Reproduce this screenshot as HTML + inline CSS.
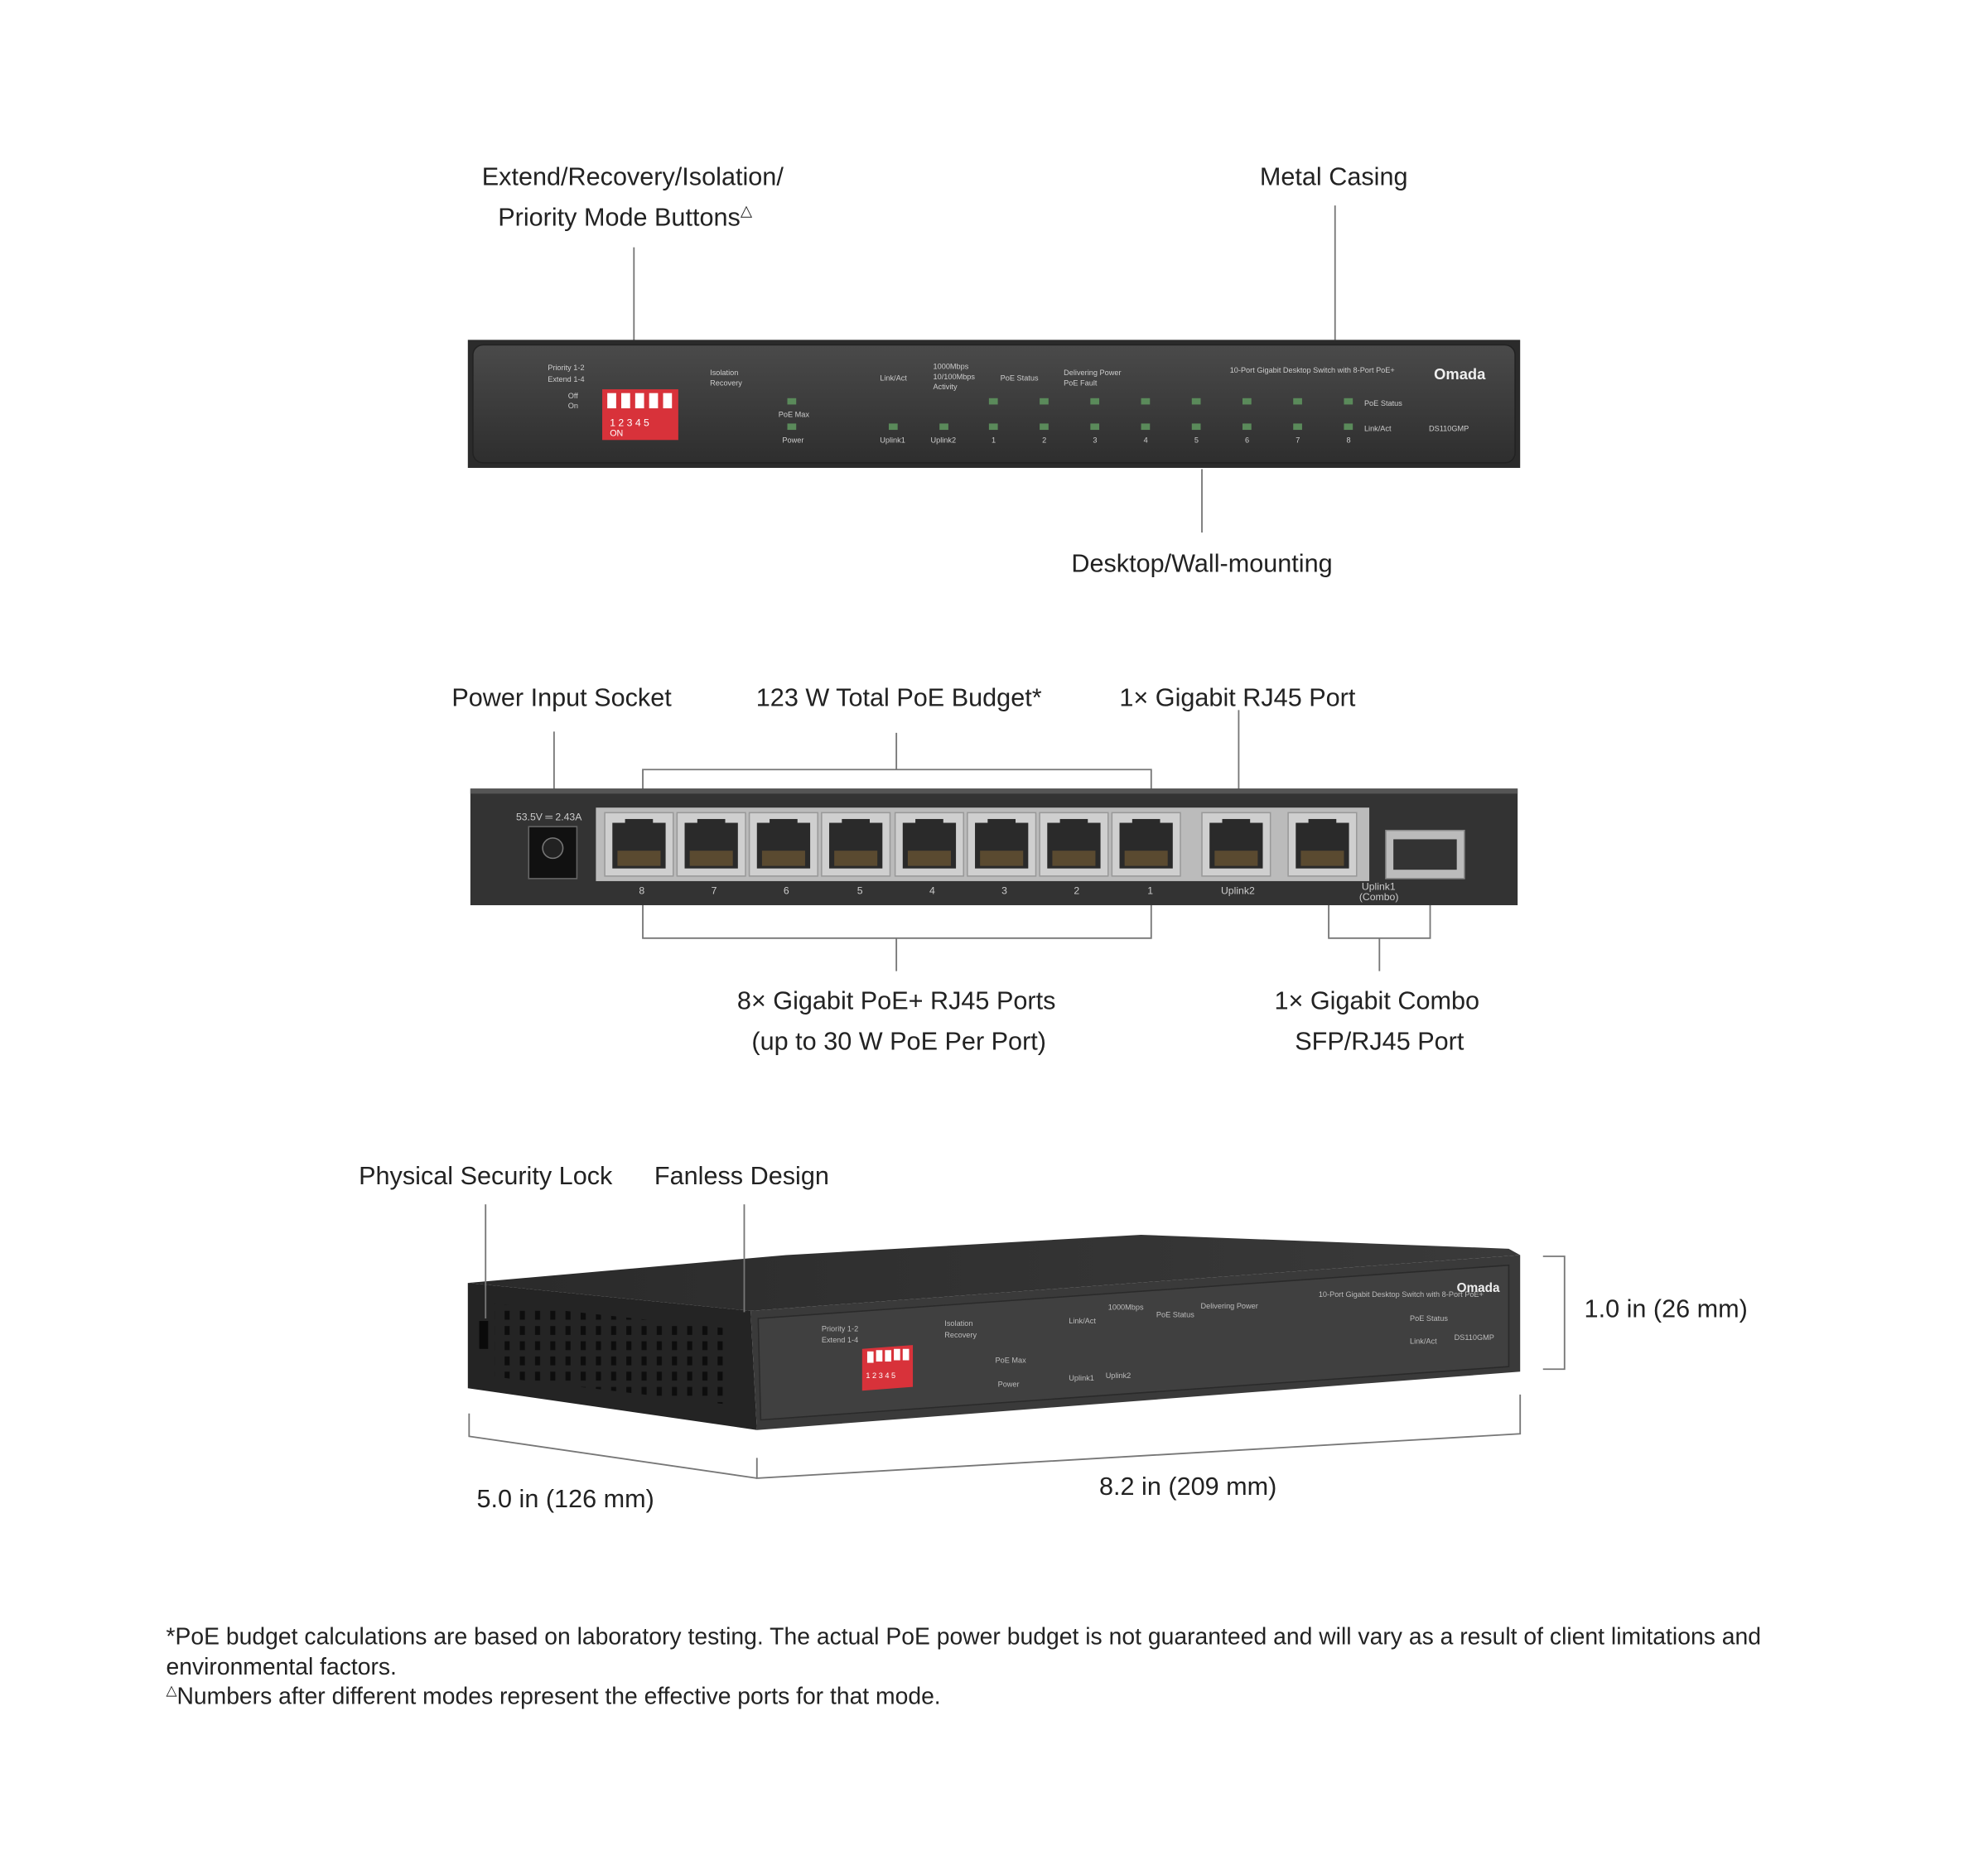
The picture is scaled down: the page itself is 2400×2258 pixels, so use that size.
<!DOCTYPE html>
<html><head><meta charset="utf-8"><style>
html,body{margin:0;padding:0;background:#fff}
svg{display:block}
text{font-family:"Liberation Sans",sans-serif;fill:#222}
</style></head><body>
<svg width="2400" height="2258" viewBox="0 0 1568 1475" xmlns="http://www.w3.org/2000/svg">
<defs>
<linearGradient id="pan" x1="0" y1="0" x2="0" y2="1"><stop offset="0" stop-color="#4a4a4a"/><stop offset="1" stop-color="#2e2e2e"/></linearGradient>
<linearGradient id="top3" x1="0" y1="0" x2="1" y2="0"><stop offset="0" stop-color="#2a2a2a"/><stop offset="1" stop-color="#3a3a3a"/></linearGradient>
<g id="port"><rect x="0" y="0" width="54" height="50" fill="#cfcfcf" stroke="#999"/><rect x="6" y="8" width="42" height="36" fill="#2a2a2a"/><rect x="16" y="5" width="22" height="8" fill="#2a2a2a"/><rect x="10" y="30" width="34" height="12" fill="#5a4a30"/></g>
<g id="led"><rect width="7" height="5" fill="#5a8a5a"/></g>
<pattern id="dots" x="0" y="0" width="12" height="12" patternUnits="userSpaceOnUse"><rect x="2" y="2" width="4" height="7" fill="#0d0d0d"/></pattern>
</defs>

<g font-size="20">
<text x="499" y="146" text-anchor="middle">Extend/Recovery/Isolation/</text>
<text x="493" y="178" text-anchor="middle">Priority Mode Buttons<tspan font-size="12" dy="-8">△</tspan></text>
<text x="1052" y="146" text-anchor="middle">Metal Casing</text>
<text x="948" y="451" text-anchor="middle">Desktop/Wall-mounting</text>
</g>
<g stroke="#777" stroke-width="1.2">
<line x1="500" y1="195" x2="500" y2="292"/>
<line x1="1053" y1="162" x2="1053" y2="268"/>
<line x1="948" y1="370" x2="948" y2="420"/>
</g>

<rect x="369" y="268" width="830" height="101" fill="#2b2b2b"/>
<rect x="373" y="272" width="822" height="93" rx="8" fill="url(#pan)" stroke="#222"/>
<rect x="475" y="307" width="60" height="40" fill="#d8323a"/>
<g fill="#fff"><rect x="479" y="310" width="7" height="12"/><rect x="490" y="310" width="7" height="12"/><rect x="501" y="310" width="7" height="12"/><rect x="512" y="310" width="7" height="12"/><rect x="523" y="310" width="7" height="12"/></g>
<text x="481" y="336" font-size="8" style="fill:#fff">1 2 3 4 5</text>
<text x="481" y="344" font-size="7" style="fill:#fff">ON</text>
<g font-size="6" style="fill:#ccc">
<text x="432" y="292" style="fill:#ccc">Priority 1-2</text><text x="432" y="301" style="fill:#ccc">Extend 1-4</text>
<text x="448" y="314" style="fill:#ccc">Off</text><text x="448" y="322" style="fill:#ccc">On</text>
<text x="560" y="296" style="fill:#ccc">Isolation</text><text x="560" y="304" style="fill:#ccc">Recovery</text>
<text x="694" y="300" style="fill:#ccc">Link/Act</text><text x="736" y="291" style="fill:#ccc">1000Mbps</text><text x="736" y="299" style="fill:#ccc">10/100Mbps</text><text x="736" y="307" style="fill:#ccc">Activity</text>
<text x="789" y="300" style="fill:#ccc">PoE Status</text><text x="839" y="296" style="fill:#ccc">Delivering Power</text><text x="839" y="304" style="fill:#ccc">PoE Fault</text>
<text x="970" y="294" style="fill:#ccc">10-Port Gigabit Desktop Switch with 8-Port PoE+</text>
<text x="614" y="329" style="fill:#ccc">PoE Max</text><text x="617" y="349" style="fill:#ccc">Power</text>
<text x="694" y="349" style="fill:#ccc">Uplink1</text><text x="734" y="349" style="fill:#ccc">Uplink2</text>
<text x="782" y="349" style="fill:#ccc">1</text><text x="822" y="349" style="fill:#ccc">2</text><text x="862" y="349" style="fill:#ccc">3</text><text x="902" y="349" style="fill:#ccc">4</text><text x="942" y="349" style="fill:#ccc">5</text><text x="982" y="349" style="fill:#ccc">6</text><text x="1022" y="349" style="fill:#ccc">7</text><text x="1062" y="349" style="fill:#ccc">8</text>
<text x="1076" y="320" style="fill:#ccc">PoE Status</text><text x="1076" y="340" style="fill:#ccc">Link/Act</text><text x="1127" y="340" style="fill:#ccc">DS110GMP</text>
</g>
<text x="1131" y="299" font-size="12" font-weight="bold" style="fill:#eee">Omada</text>
<g><use href="#led" x="621" y="314"/><use href="#led" x="621" y="334"/><use href="#led" x="701" y="334"/><use href="#led" x="741" y="334"/>
<use href="#led" x="780" y="314"/><use href="#led" x="780" y="334"/><use href="#led" x="820" y="314"/><use href="#led" x="820" y="334"/><use href="#led" x="860" y="314"/><use href="#led" x="860" y="334"/><use href="#led" x="900" y="314"/><use href="#led" x="900" y="334"/><use href="#led" x="940" y="314"/><use href="#led" x="940" y="334"/><use href="#led" x="980" y="314"/><use href="#led" x="980" y="334"/><use href="#led" x="1020" y="314"/><use href="#led" x="1020" y="334"/><use href="#led" x="1060" y="314"/><use href="#led" x="1060" y="334"/></g>

<g font-size="20">
<text x="443" y="557" text-anchor="middle">Power Input Socket</text>
<text x="709" y="557" text-anchor="middle">123 W Total PoE Budget*</text>
<text x="976" y="557" text-anchor="middle">1× Gigabit RJ45 Port</text>
<text x="707" y="796" text-anchor="middle">8× Gigabit PoE+ RJ45 Ports</text>
<text x="709" y="828" text-anchor="middle">(up to 30 W PoE Per Port)</text>
<text x="1086" y="796" text-anchor="middle">1× Gigabit Combo</text>
<text x="1088" y="828" text-anchor="middle">SFP/RJ45 Port</text>
</g>
<g stroke="#777" stroke-width="1.2" fill="none">
<line x1="437" y1="577" x2="437" y2="635"/>
<polyline points="507,638 507,607 908,607 908,638"/><line x1="707" y1="607" x2="707" y2="578"/>
<line x1="977" y1="560" x2="977" y2="638"/>
<polyline points="507,714 507,740 908,740 908,714"/><line x1="707" y1="740" x2="707" y2="766"/>
<polyline points="1048,712 1048,740 1128,740 1128,712"/><line x1="1088" y1="740" x2="1088" y2="766"/>
</g>
<rect x="371" y="622" width="826" height="92" fill="#333"/>
<rect x="371" y="622" width="826" height="4" fill="#555"/>
<rect x="470" y="637" width="610" height="58" fill="#bbb"/>
<use href="#port" x="477" y="641"/><use href="#port" x="534" y="641"/><use href="#port" x="591" y="641"/><use href="#port" x="648" y="641"/><use href="#port" x="706" y="641"/><use href="#port" x="763" y="641"/><use href="#port" x="820" y="641"/><use href="#port" x="877" y="641"/><use href="#port" x="948" y="641"/><use href="#port" x="1016" y="641"/>
<rect x="1093" y="655" width="62" height="38" fill="#bbb" stroke="#888"/><rect x="1099" y="662" width="50" height="24" fill="#333"/>
<rect x="417" y="652" width="38" height="41" fill="#111" stroke="#666"/><circle cx="436" cy="669" r="8" fill="#222" stroke="#777"/>
<g font-size="8" style="fill:#ccc">
<text x="407" y="647" style="fill:#ccc">53.5V ═ 2.43A</text>
<text x="504" y="705" style="fill:#ccc">8</text><text x="561" y="705" style="fill:#ccc">7</text><text x="618" y="705" style="fill:#ccc">6</text><text x="676" y="705" style="fill:#ccc">5</text><text x="733" y="705" style="fill:#ccc">4</text><text x="790" y="705" style="fill:#ccc">3</text><text x="847" y="705" style="fill:#ccc">2</text><text x="905" y="705" style="fill:#ccc">1</text>
<text x="963" y="705" style="fill:#ccc">Uplink2</text><text x="1074" y="702" style="fill:#ccc">Uplink1</text><text x="1072" y="710" style="fill:#ccc">(Combo)</text>
</g>

<g font-size="20">
<text x="383" y="934" text-anchor="middle">Physical Security Lock</text>
<text x="585" y="934" text-anchor="middle">Fanless Design</text>
<text x="1314" y="1039" text-anchor="middle">1.0 in (26 mm)</text>
<text x="446" y="1189" text-anchor="middle">5.0 in (126 mm)</text>
<text x="937" y="1179" text-anchor="middle">8.2 in (209 mm)</text>
</g>
<polygon points="369,1012 592,1034 1199,990 1190,985 900,974 620,990" fill="url(#top3)"/>
<polygon points="369,1012 592,1034 597,1128 369,1095" fill="#242424"/>
<polygon points="592,1034 1199,990 1199,1082 597,1128" fill="#3a3a3a"/>
<polygon points="598,1040 1190,998 1190,1078 600,1120" fill="#404040" stroke="#2a2a2a"/>
<rect x="378" y="1042" width="7" height="22" fill="#0a0a0a"/>
<polygon points="390,1028 575,1048 575,1108 390,1086" fill="url(#dots)"/>
<polygon points="680,1064 720,1061 720,1094 680,1097" fill="#d8323a"/>
<g fill="#fff"><rect x="684" y="1066" width="5" height="9"/><rect x="691" y="1065" width="5" height="9"/><rect x="698" y="1065" width="5" height="9"/><rect x="705" y="1064" width="5" height="9"/><rect x="712" y="1064" width="5" height="9"/></g>
<text x="683" y="1087" font-size="6" style="fill:#fff">1 2 3 4 5</text>
<g font-size="6" style="fill:#bbb">
<text x="648" y="1050" style="fill:#bbb">Priority 1-2</text><text x="648" y="1059" style="fill:#bbb">Extend 1-4</text>
<text x="745" y="1046" style="fill:#bbb">Isolation</text><text x="745" y="1055" style="fill:#bbb">Recovery</text>
<text x="843" y="1044" style="fill:#bbb">Link/Act</text><text x="874" y="1033" style="fill:#bbb">1000Mbps</text><text x="912" y="1039" style="fill:#bbb">PoE Status</text><text x="947" y="1032" style="fill:#bbb">Delivering Power</text>
<text x="1040" y="1023" style="fill:#bbb">10-Port Gigabit Desktop Switch with 8-Port PoE+</text>
<text x="785" y="1075" style="fill:#bbb">PoE Max</text><text x="787" y="1094" style="fill:#bbb">Power</text>
<text x="843" y="1089" style="fill:#bbb">Uplink1</text><text x="872" y="1087" style="fill:#bbb">Uplink2</text>
<text x="1112" y="1042" style="fill:#bbb">PoE Status</text><text x="1112" y="1060" style="fill:#bbb">Link/Act</text><text x="1147" y="1057" style="fill:#bbb">DS110GMP</text>
</g>
<text x="1149" y="1019" font-size="10" font-weight="bold" style="fill:#eee">Omada</text>
<g stroke="#777" stroke-width="1.2" fill="none">
<line x1="383" y1="950" x2="383" y2="1040"/>
<line x1="587" y1="950" x2="587" y2="1035"/>
<polyline points="370,1115 370,1133 597,1166"/>
<polyline points="597,1150 597,1166 1199,1131 1199,1100"/>
<polyline points="1217,991 1234,991 1234,1080 1217,1080"/>
</g>

<g font-size="18.5">
<text x="131" y="1297" textLength="1258" lengthAdjust="spacing">*PoE budget calculations are based on laboratory testing. The actual PoE power budget is not guaranteed and will vary as a result of client limitations and</text>
<text x="131" y="1321">environmental factors.</text>
<text x="131" y="1344"><tspan font-size="11" dy="-7">△</tspan><tspan dy="7">Numbers after different modes represent the effective ports for that mode.</tspan></text>
</g>
</svg>
</body></html>
